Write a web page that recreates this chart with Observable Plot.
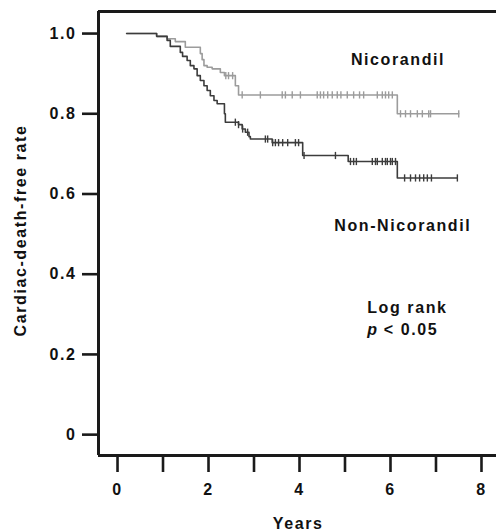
<!DOCTYPE html>
<html>
<head>
<meta charset="utf-8">
<script src="https://cdn.jsdelivr.net/npm/d3@7"></script>
<script src="https://cdn.jsdelivr.net/npm/@observablehq/plot@0.6"></script>
<style>
  html, body { margin: 0; padding: 0; background: #fff; }
  #chart svg text { letter-spacing: 1.6px; }
</style>
</head>
<body>
<div id="chart"></div>
<script>
// ---- data ----
const groups = ["Nicorandil", "Non-Nicorandil"];

// Nicorandil: step times (years) and survival after each step
const nicoTimes = [0.2, 0.86, 1.09, 1.27, 1.49, 1.82, 1.86, 1.90, 1.97, 2.08, 2.26, 2.35, 2.59, 2.66, 6.15, 7.50];
const nicoSurv  = [1.0, 0.993, 0.987, 0.980, 0.966, 0.950, 0.935, 0.920, 0.916, 0.912, 0.903, 0.895, 0.870, 0.847, 0.800, 0.800];
const nicoCensor = [2.38, 2.44, 2.53, 2.74, 3.14, 3.62, 3.69, 3.84, 4.02, 4.39, 4.46, 4.53, 4.62, 4.72, 4.83, 4.91, 5.05, 5.19, 5.32, 5.41, 5.71, 5.82, 5.89, 5.96, 6.04, 6.22, 6.33, 6.44, 6.59, 6.70, 6.84, 6.88, 7.50];

// Non-Nicorandil
const nonTimes = [0.2, 0.86, 1.09, 1.16, 1.38, 1.43, 1.53, 1.60, 1.68, 1.75, 1.82, 1.90, 1.97, 2.04, 2.12, 2.19, 2.35, 2.37, 2.66, 2.74, 2.81, 2.89, 2.92, 3.40, 4.07, 5.07, 6.15, 7.47];
const nonSurv  = [1.0, 0.993, 0.983, 0.968, 0.953, 0.943, 0.933, 0.920, 0.912, 0.895, 0.883, 0.870, 0.858, 0.845, 0.833, 0.825, 0.800, 0.779, 0.773, 0.762, 0.754, 0.743, 0.737, 0.728, 0.696, 0.681, 0.640, 0.640];
const nonCensor = [2.59, 2.66, 2.75, 2.86, 3.25, 3.30, 3.41, 3.47, 3.54, 3.63, 3.74, 3.91, 3.98, 4.10, 4.79, 5.12, 5.19, 5.25, 5.60, 5.67, 5.71, 5.82, 5.89, 5.93, 6.00, 6.04, 6.11, 6.31, 6.44, 6.55, 6.64, 6.73, 6.81, 6.90, 7.47];

const xTicks = [0, 1, 2, 3, 4, 5, 6, 7, 8];
const xTickLabels = ["0", "", "2", "", "4", "", "6", "", "8"];
const yTicks = [0, 0.2, 0.4, 0.6, 0.8, 1.0];
const yTickLabels = ["0", "0.2", "0.4", "0.6", "0.8", "1.0"];

const colors = {"Nicorandil": "#9c9c9c", "Non-Nicorandil": "#3c3c3c"};

// ---- derived tables ----
const xDomain = [-0.418, 8.33];
const yDomain = [-0.052, 1.055];
function survAt(ts, ss, t) { let v = ss[0]; for (let i = 0; i < ts.length; i++) if (ts[i] <= t) v = ss[i]; return v; }
const steps = [
  ...nicoTimes.map((t, i) => ({group: groups[0], t, s: nicoSurv[i]})),
  ...nonTimes.map((t, i) => ({group: groups[1], t, s: nonSurv[i]}))
];
const censors = [
  ...nicoCensor.map(t => ({group: groups[0], t, s: survAt(nicoTimes, nicoSurv, t)})),
  ...nonCensor.map(t => ({group: groups[1], t, s: survAt(nonTimes, nonSurv, t)}))
];

const vtick = { draw(ctx, size) { const r = Math.sqrt(size / Math.PI); ctx.moveTo(0, -r); ctx.lineTo(0, r); } };
const font = {fontFamily: "Liberation Sans, Arial, Helvetica, sans-serif", fontSize: 16, fontWeight: "bold", fill: "#111"};
const ink = "#1a1a1a";

const chart = Plot.plot({
  width: 496, height: 532,
  marginLeft: 98, marginRight: 0, marginTop: 11, marginBottom: 77,
  style: {fontFamily: "Liberation Sans, Arial, Helvetica, sans-serif", fontSize: "16px", fontWeight: "bold", color: "#111", background: "#fff"},
  x: {domain: xDomain},
  y: {domain: yDomain},
  marks: [
    // axis frame (top, bottom, left)
    Plot.ruleY([yDomain[1], yDomain[0]], {stroke: ink, strokeWidth: 3}),
    Plot.ruleX([xDomain[0]], {stroke: ink, strokeWidth: 3}),
    Plot.axisX({ticks: xTicks, tickFormat: d => xTickLabels[xTicks.indexOf(d)], tickSize: 17, tickPadding: 11, stroke: ink, strokeWidth: 2.6, label: null, fontSize: 16, fontWeight: "bold"}),
    Plot.axisY({ticks: yTicks, tickFormat: d => yTickLabels[yTicks.indexOf(d)], tickSize: 16, tickPadding: 6, stroke: ink, strokeWidth: 2.6, label: null, fontSize: 16, fontWeight: "bold"}),
    Plot.line(steps, {x: "t", y: "s", z: "group", stroke: d => colors[d.group], curve: "step-after", strokeWidth: 1.6}),
    Plot.dot(censors, {x: "t", y: "s", symbol: vtick, r: 3.6, stroke: d => colors[d.group], fill: "none", strokeWidth: 1.4}),
    Plot.text(["Nicorandil"], {x: 6.165, y: 0.935, ...font}),
    Plot.text(["Non-Nicorandil"], {x: 6.27, y: 0.521, ...font}),
    Plot.text(["Log rank"], {x: 5.487, y: 0.3155, textAnchor: "start", ...font}),
    Plot.text(["p"], {x: 5.487, y: 0.2614, textAnchor: "start", fontStyle: "italic", ...font}),
    Plot.text(["< 0.05"], {x: 5.487, dx: 16.6, y: 0.2614, textAnchor: "start", ...font}),
    Plot.text(["Cardiac-death-free rate"], {x: -2.13, y: 0.509, rotate: -90, ...font}),
    Plot.text(["Years"], {x: 3.97, y: -0.222, ...font})
  ]
});
// thicken axis tick strokes (axis marks draw tick paths)
d3.select(chart).selectAll('g[aria-label$="tick"]').attr("stroke-width", 2.6).selectAll("path,line").attr("stroke-width", 2.6);
document.getElementById("chart").appendChild(chart);
</script>
</body>
</html>
